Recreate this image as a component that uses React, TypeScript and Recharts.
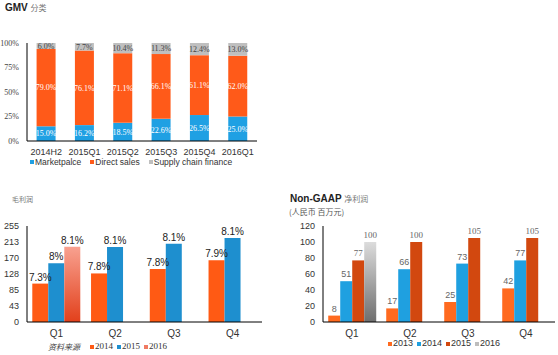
import { Bar, BarChart, LabelList, Legend, XAxis, YAxis } from 'recharts'

// GMV 分类 (share of GMV, %)
const gmvPeriods = ['2014H2', '2015Q1', '2015Q2', '2015Q3', '2015Q4', '2016Q1']
const marketplace = [15.0, 16.2, 18.5, 22.6, 26.5, 25.0]
const directSales = [79.0, 76.1, 71.1, 66.1, 61.1, 62.0]
const supplyChain = [6.0, 7.7, 10.4, 11.3, 12.4, 13.0]
const pctTicks = [0, 25, 50, 75, 100]

// 毛利润
const quarters = ['Q1', 'Q2', 'Q3', 'Q4']
const gross2014 = [102, 129, 141, 164]
const gross2015 = [156, 199, 208, 223]
const gross2016 = [200]
const margin2014 = ['7.3%', '7.8%', '7.8%', '7.9%']
const margin2015 = ['8%', '8.1%', '8.1%', '8.1%']
const margin2016 = ['8.1%']
const grossTicks = [0, 43, 85, 128, 170, 213, 255]

// Non-GAAP 净利润 (人民币 百万元)
const ng2013 = [8, 17, 25, 42]
const ng2014 = [51, 66, 73, 77]
const ng2015 = [77, 100, 105, 105]
const ng2016 = [100]
const ngTicks = [0, 20, 40, 60, 80, 100, 120]

const SANS = '"Liberation Sans", Arial, sans-serif'
const SERIF = '"Liberation Serif", "Times New Roman", serif'
const CJK = '"Noto Sans CJK SC", sans-serif'

const gmvData = gmvPeriods.map((p, i) => ({
	period: p,
	Marketpalce: marketplace[i],
	'Direct sales': directSales[i],
	'Supply chain finance': supplyChain[i],
}))

const grossData = quarters.map((q, i) => ({
	q,
	'2014': gross2014[i],
	'2015': gross2015[i],
	'2016': gross2016[i] ?? null,
	m14: margin2014[i],
	m15: margin2015[i],
	m16: margin2016[i] ?? '',
}))

const ngData = quarters.map((q, i) => ({
	q,
	'2013': ng2013[i],
	'2014': ng2014[i],
	'2015': ng2015[i],
	'2016': ng2016[i] ?? null,
}))

// legend drawn in series order with plain colour boxes (gradients can't be css backgrounds)
const makeLegend = (items: [string, string][], font: string, size: number, gap: number, box: number) =>
	() => (
		<div style={{ display: 'flex', alignItems: 'center', fontFamily: font, fontSize: size, color: '#333', whiteSpace: 'nowrap', lineHeight: 1 }}>
			{items.map(([name, color]) => (
				<span key={name} style={{ display: 'flex', alignItems: 'center', marginRight: gap }}>
					<span style={{ width: box, height: box, background: color, marginRight: 1 }} />
					{name}
				</span>
			))}
		</div>
	)

const pctLabel = (v: any) => (typeof v === 'number' ? v.toFixed(1) + '%' : '')

const App = () => {
	return (
		<div style={{ position: 'absolute', left: 0, top: 0, width: 558, height: 355, background: '#fff', overflow: 'hidden' }}>
			<div style={{ position: 'absolute', left: 5, top: 2, fontFamily: SANS, fontSize: 10, fontWeight: 'bold', color: '#222' }}>
				GMV <span style={{ fontFamily: CJK, fontSize: 8, fontWeight: 'normal', color: '#777' }}>分类</span>
			</div>

			<div style={{ position: 'absolute', left: 0, top: 0 }}>
				<BarChart width={270} height={175} data={gmvData} margin={{ top: 43, right: 13, left: 0, bottom: 20 }} barCategoryGap='25%'>
					<XAxis dataKey='period' height={14} tickLine={false} axisLine={{ stroke: '#000' }} interval={0}
						tick={{ fontSize: 9, fontFamily: SANS, fill: '#333' }} />
					<YAxis width={27} domain={[0, 100]} ticks={pctTicks} tickFormatter={(v) => v + '%'} tickLine={false}
						axisLine={{ stroke: '#000' }} tick={{ fontSize: 8, fontFamily: SERIF, fill: '#444' }} />
					<Bar dataKey='Marketpalce' stackId='a' fill='#1FA0E3' isAnimationActive={false}>
						<LabelList dataKey='Marketpalce' position='center' formatter={pctLabel} fill='#fff' fontSize={8} fontFamily={SERIF} />
					</Bar>
					<Bar dataKey='Direct sales' stackId='a' fill='#FF5A19' isAnimationActive={false}>
						<LabelList dataKey='Direct sales' position='center' formatter={pctLabel} fill='#fff' fontSize={8} fontFamily={SERIF} />
					</Bar>
					<Bar dataKey='Supply chain finance' stackId='a' fill='#BFBFBF' isAnimationActive={false}>
						<LabelList dataKey='Supply chain finance' position='center' formatter={pctLabel} fill='#444' fontSize={8} fontFamily={SERIF} />
					</Bar>
					<Legend verticalAlign='middle' align='center' wrapperStyle={{ top: 158, left: 30, width: 'auto' }}
						content={makeLegend([['Marketpalce', '#1FA0E3'], ['Direct sales', '#FF5A19'], ['Supply chain finance', '#BFBFBF']], SANS, 8.5, 9, 4)} />
				</BarChart>
			</div>

			<div style={{ position: 'absolute', left: 12, top: 194, fontFamily: CJK, fontSize: 7, color: '#777' }}>毛利润</div>

			<div style={{ position: 'absolute', left: 0, top: 190 }}>
				<BarChart width={275} height={165} data={grossData} margin={{ top: 36, right: 13, left: 0, bottom: 18 }} barCategoryGap='9%' barGap={0}>
					<defs>
						<linearGradient id='grad2016' x1='0' y1='0' x2='0' y2='1'>
							<stop offset='0%' stopColor='#F8A190' />
							<stop offset='100%' stopColor='#E2401B' />
						</linearGradient>
					</defs>
					<XAxis dataKey='q' height={15} tickLine={false} axisLine={{ stroke: '#000' }}
						tick={{ fontSize: 10, fontFamily: SANS, fill: '#333' }} />
					<YAxis width={27} domain={[0, 255]} ticks={grossTicks} tickLine={false} axisLine={{ stroke: '#000' }}
						tick={{ fontSize: 9, fontFamily: SANS, fill: '#333' }} />
					<Bar dataKey='2014' fill='#FF5A14' isAnimationActive={false}>
						<LabelList dataKey='m14' position='top' offset={3} fill='#222' fontSize={10} fontFamily={SANS} />
					</Bar>
					<Bar dataKey='2015' fill='#1E8FCF' isAnimationActive={false}>
						<LabelList dataKey='m15' position='top' offset={3} fill='#222' fontSize={10} fontFamily={SANS} />
					</Bar>
					<Bar dataKey='2016' fill='url(#grad2016)' isAnimationActive={false}>
						<LabelList dataKey='m16' position='top' offset={3} fill='#222' fontSize={10} fontFamily={SANS} />
					</Bar>
					<Legend verticalAlign='middle' align='center' wrapperStyle={{ top: 152, left: 90, width: 'auto' }}
						content={makeLegend([['2014', '#FF5A14'], ['2015', '#1E8FCF'], ['2016', '#F07A62']], SERIF, 9, 4, 4)} />
				</BarChart>
			</div>

			<div style={{ position: 'absolute', left: 48, top: 341, fontFamily: CJK, fontSize: 8, fontStyle: 'italic', color: '#444' }}>资料来源</div>

			<div style={{ position: 'absolute', left: 290, top: 193, fontFamily: SANS, fontSize: 10, fontWeight: 'bold', color: '#222' }}>
				Non-GAAP <span style={{ fontFamily: CJK, fontSize: 8, fontWeight: 'normal', color: '#777' }}>净利润</span>
			</div>
			<div style={{ position: 'absolute', left: 289, top: 206, fontFamily: CJK, fontSize: 8, color: '#555' }}>(人民币 百万元)</div>

			<div style={{ position: 'absolute', left: 280, top: 190 }}>
				<BarChart width={278} height={165} data={ngData} margin={{ top: 36, right: 3, left: 0, bottom: 18 }} barCategoryGap='9%' barGap={0}>
					<defs>
						<linearGradient id='gradGray' x1='0' y1='0' x2='0' y2='1'>
							<stop offset='0%' stopColor='#DCDCDC' />
							<stop offset='100%' stopColor='#6E6E6E' />
						</linearGradient>
					</defs>
					<XAxis dataKey='q' height={15} tickLine={false} axisLine={{ stroke: '#000' }}
						tick={{ fontSize: 10, fontFamily: SANS, fill: '#333' }} />
					<YAxis width={43} domain={[0, 120]} ticks={ngTicks} tickLine={false} axisLine={{ stroke: '#000' }}
						tick={{ fontSize: 9, fontFamily: SANS, fill: '#333' }} />
					<Bar dataKey='2013' fill='#FF6A1F' isAnimationActive={false}>
						<LabelList dataKey='2013' position='top' offset={4} fill='#666' fontSize={9} fontFamily={SANS} />
					</Bar>
					<Bar dataKey='2014' fill='#1FA0E0' isAnimationActive={false}>
						<LabelList dataKey='2014' position='top' offset={4} fill='#666' fontSize={9} fontFamily={SANS} />
					</Bar>
					<Bar dataKey='2015' fill='#D2480F' isAnimationActive={false}>
						<LabelList dataKey='2015' position='top' offset={4} fill='#666' fontSize={9} fontFamily={SERIF} />
					</Bar>
					<Bar dataKey='2016' fill='url(#gradGray)' isAnimationActive={false}>
						<LabelList dataKey='2016' position='top' offset={4} fill='#666' fontSize={9} fontFamily={SERIF} />
					</Bar>
					<Legend verticalAlign='middle' align='center' wrapperStyle={{ top: 149, left: 108, width: 'auto' }}
						content={makeLegend([['2013', '#FF6A1F'], ['2014', '#1FA0E0'], ['2015', '#D2480F'], ['2016', '#BDBDBD']], SANS, 9, 4, 4)} />
				</BarChart>
			</div>
		</div>
	)
}

export default App
